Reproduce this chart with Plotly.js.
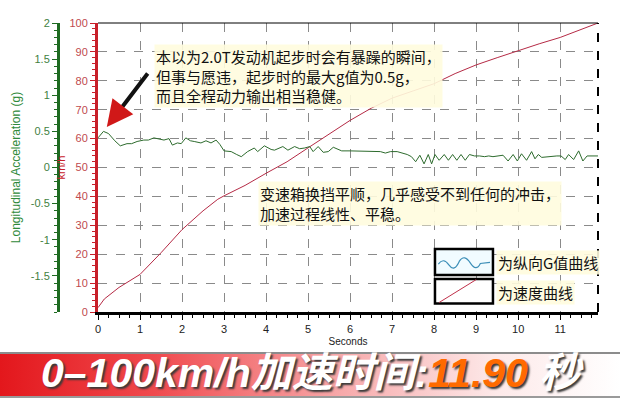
<!DOCTYPE html>
<html>
<head>
<meta charset="utf-8">
<script src="https://cdn.plot.ly/plotly-3.0.1.min.js"></script>
<style>
  html, body { margin: 0; padding: 0; background: #fff; }
  #wrap { position: relative; width: 620px; height: 400px; }
  /* red-to-white banner strip behind the bottom caption */
  #band {
    position: absolute; left: 0; top: 352px; width: 620px; height: 42px;
    border-top: 2px solid #8c8c8c; border-bottom: 2px solid #9a9a9a;
    background: linear-gradient(to right, #e3171c 0%, #f04a4e 25%, #f7a9aa 55%, #fde9e9 80%, #ffffff 100%);
  }
  #chart { position: absolute; left: 0; top: 0; }
</style>
</head>
<body>
<div id="wrap">
  <div id="band"></div>
  <div id="chart"></div>
</div>
<script>
  // Speed curve (km/h vs seconds)
  const speedT = [0, 0.15, 0.5, 1, 1.5, 2, 2.5, 2.85, 3, 3.5, 4, 4.5, 5, 5.5, 6, 6.5, 7, 7.5, 8, 8.5, 9, 9.5, 10, 10.5, 11, 11.5, 11.9];
  const speedKmh = [1.5, 4.5, 8.5, 13, 20.5, 28.5, 35, 39, 40.2, 43.8, 48, 52, 56.8, 61.5, 66.3, 70.5, 74, 76.5, 79, 82.5, 85.5, 88, 90.5, 92.8, 95, 97.8, 100];

  // Longitudinal acceleration (g vs seconds)
  const gT = [
    0, 0.13, 0.25, 0.4, 0.53, 0.69, 0.8, 0.93, 1.09, 1.2, 1.33, 1.45, 1.57, 1.69, 1.77, 1.89, 1.98,
    2.09, 2.2, 2.29, 2.45, 2.57, 2.69, 2.81, 2.9, 3.0, 3.17, 3.3, 3.41, 3.56, 3.72, 3.8, 3.96,
    4.12, 4.2, 4.4, 4.52, 4.68, 4.8, 4.92, 5.04, 5.12, 5.24, 5.36, 5.48, 5.6, 5.8, 6.0, 6.24,
    6.48, 6.6, 6.72, 6.84, 6.96, 7.12, 7.36, 7.46, 7.56, 7.66, 7.76, 7.86, 7.94, 8.02, 8.12,
    8.24, 8.34, 8.44, 8.54, 8.64, 8.74, 8.84, 8.96, 9.08, 9.2, 9.3, 9.4, 9.52, 9.64, 9.76,
    9.88, 9.98, 10.08, 10.2, 10.32, 10.4, 10.48, 10.56, 10.7, 10.8, 10.92, 11.02, 11.12, 11.2,
    11.32, 11.44, 11.54, 11.64, 11.8, 11.9
  ];
  const gVal = [
    0.41, 0.50, 0.47, 0.37, 0.30, 0.33, 0.33, 0.36, 0.38, 0.38, 0.41, 0.39, 0.38, 0.40, 0.31, 0.34, 0.33,
    0.41, 0.37, 0.36, 0.34, 0.37, 0.34, 0.38, 0.32, 0.23, 0.22, 0.18, 0.15, 0.22, 0.27, 0.22, 0.30,
    0.25, 0.24, 0.29, 0.24, 0.29, 0.26, 0.27, 0.29, 0.22, 0.29, 0.21, 0.22, 0.28, 0.23, 0.23, 0.23,
    0.22, 0.22, 0.22, 0.20, 0.22, 0.22, 0.18, 0.15, 0.08, 0.17, 0.05, 0.18, 0.05, 0.18, 0.10,
    0.18, 0.10, 0.18, 0.10, 0.18, 0.10, 0.18, 0.16, 0.16, 0.15, 0.16, 0.15, 0.16, 0.17, 0.09,
    0.18, 0.09, 0.19, 0.10, 0.22, 0.12, 0.18, 0.14, 0.15, 0.15, 0.16, 0.16, 0.11, 0.18,
    0.11, 0.23, 0.09, 0.16, 0.16, 0.16
  ];

  const gTicks = [-1.5, -1, -0.5, 0, 0.5, 1, 1.5, 2];
  const gTickText = ["-1.5", "-1", "-0.5", "0", "0.5", "1", "1.5", "2"];

  const RED = "#c8202a";
  const RED_TXT = "#c04a4e";
  const GREEN = "#1f6b22";
  const GREEN_TXT = "#3f7f3f";
  const CJK = "Noto Sans CJK SC, sans-serif";
  const NOTE_BG = "rgba(255,252,222,0.9)";

  const traces = [
    {
      x: gT, y: gVal, yaxis: "y2", type: "scatter", mode: "lines",
      line: { color: "#2d6b2d", width: 1 }, hoverinfo: "skip",
    },
    {
      x: speedT, y: speedKmh, type: "scatter", mode: "lines",
      line: { color: "#b52a45", width: 1 }, hoverinfo: "skip",
    },
  ];

  const note = (text, x, y, size) => ({
    text, x, y, xref: "x", yref: "y", xanchor: "left", yanchor: "middle", align: "left",
    showarrow: false, bgcolor: NOTE_BG, borderpad: 1,
    font: { family: CJK, size, color: "#111" },
  });

  const layout = {
    width: 620, height: 400,
    margin: { l: 58, r: 22, t: 23, b: 88 },
    paper_bgcolor: "rgba(0,0,0,0)",
    plot_bgcolor: "white",
    showlegend: false,
    font: { family: "Liberation Sans, Arial, sans-serif", size: 10 },
    xaxis: {
      domain: [40 / 540, 1],
      range: [0, 11.9], dtick: 1, tick0: 0,
      showgrid: true, gridcolor: "#8a8a8a", griddash: "dash", gridwidth: 1,
      zeroline: false,
      showline: true, linecolor: "black", linewidth: 3,
      ticks: "outside", ticklen: 5, tickcolor: "black",
      minor: { dtick: 0.25, ticklen: 3, ticks: "outside", tickcolor: "black", showgrid: false },
      tickfont: { size: 11, color: "#222" },
      title: { text: "Seconds", font: { size: 10, color: "#222" }, standoff: 4 },
    },
    yaxis: {
      range: [0, 100], dtick: 10, anchor: "x", side: "left",
      showgrid: true, gridcolor: "#8a8a8a", griddash: "dash", gridwidth: 1,
      zeroline: false,
      showline: true, linecolor: RED, linewidth: 3,
      ticks: "outside", ticklen: 5, tickcolor: RED,
      minor: { dtick: 2, ticklen: 3, ticks: "outside", tickcolor: RED, showgrid: false },
      tickfont: { size: 11, color: RED_TXT },
      title: { text: "km/h", font: { size: 11, color: RED }, standoff: 2 },
    },
    yaxis2: {
      range: [-2, 2], overlaying: "y", anchor: "free", position: 0, side: "left",
      tickvals: gTicks, ticktext: gTickText,
      showgrid: false, zeroline: false,
      showline: true, linecolor: GREEN, linewidth: 3,
      ticks: "outside", ticklen: 5, tickcolor: GREEN,
      minor: { dtick: 0.1, ticklen: 3, ticks: "outside", tickcolor: GREEN, showgrid: false },
      tickfont: { size: 11, color: GREEN_TXT },
      title: { text: "Longitudinal Acceleration (g)", font: { size: 12, color: "#2f8a3a" }, standoff: 6 },
    },
    shapes: [
      // frame: solid top, dashed right
      { type: "line", xref: "x domain", yref: "y domain", x0: 0, x1: 1, y0: 1, y1: 1,
        line: { color: "black", width: 1 } },
      { type: "line", xref: "x domain", yref: "y domain", x0: 1, x1: 1, y0: 0, y1: 1,
        line: { color: "black", width: 2, dash: "dash" } },
      // legend swatches
      { type: "rect", xref: "x", yref: "y", x0: 8.02, x1: 9.4, y0: 12.8, y1: 21.8,
        fillcolor: "#f1fbff", line: { color: "black", width: 2.5 } },
      { type: "path", xref: "x", yref: "y",
        path: "M 8.1,16.6 Q 8.22,19 8.35,16.3 T 8.6,17.6 Q 8.72,20.2 8.86,17 T 9.1,16.8 L 9.33,17.2",
        line: { color: "#3d8fb8", width: 1.2 } },
      { type: "rect", xref: "x", yref: "y", x0: 8.02, x1: 9.4, y0: 2.9, y1: 11.4,
        fillcolor: "white", line: { color: "black", width: 2.5 } },
      { type: "line", xref: "x", yref: "y", x0: 8.12, x1: 9.0, y0: 3.3, y1: 11.2,
        line: { color: "#c0304a", width: 1 } },
    ],
    annotations: [
      note("本以为2.0T发动机起步时会有暴躁的瞬间，<br>但事与愿违，起步时的最大g值为0.5g，<br>而且全程动力输出相当稳健。", 1.33, 81.5, 15),
      note("变速箱换挡平顺，几乎感受不到任何的冲击，<br>加速过程线性、平稳。", 3.8, 37.5, 15),
      note("为纵向G值曲线", 9.48, 17.2, 15),
      note("为速度曲线", 9.48, 6.8, 15),
      // arrow: black shaft, red head
      { text: "", x: 0.21, y: 64, xref: "x", yref: "y", ax: 42, ay: -55, showarrow: true,
        arrowhead: 0, arrowwidth: 4, arrowcolor: "#111", standoff: 14 },
      { text: "", x: 0.21, y: 64, xref: "x", yref: "y", ax: 17, ay: -22, showarrow: true,
        arrowhead: 2, arrowsize: 1.5, arrowwidth: 3.5, arrowcolor: "#d01818" },
      // bottom caption
      { text: "0–100km/h加速时间:<span style=\"color:#ff6a00\">11.90</span> 秒",
        xref: "paper", yref: "paper", x: 0.472, y: -0.212, xanchor: "center", yanchor: "middle",
        showarrow: false,
        font: { family: "Liberation Sans, " + CJK, size: 41, color: "white",
                style: "italic", weight: "bold", shadow: "2px 2px 2px #3a3a3a" } },
    ],
  };

  Plotly.newPlot("chart", traces, layout, { displayModeBar: false, staticPlot: true });
</script>
</body>
</html>
